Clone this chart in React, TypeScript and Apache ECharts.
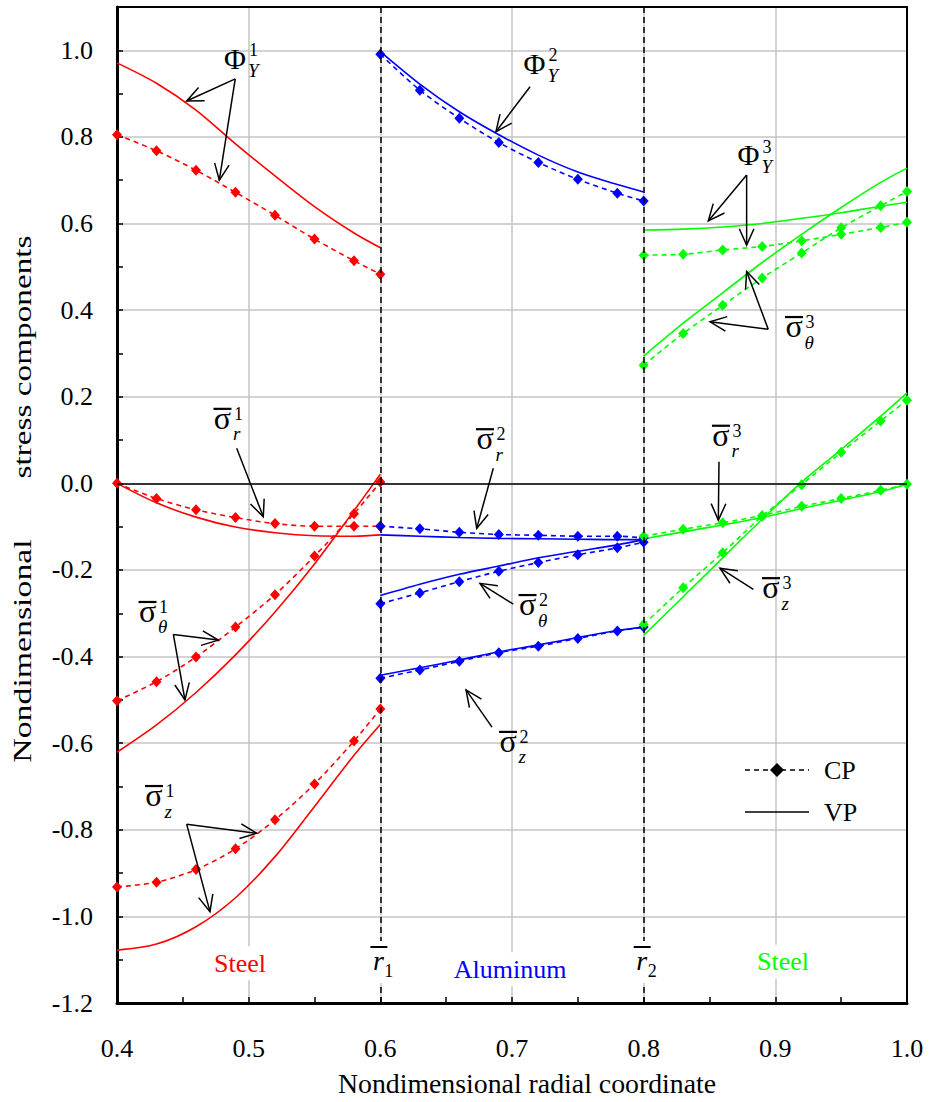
import React, { useEffect, useRef } from "react";
import * as echarts from "echarts";

const FONT = "Liberation Serif";
const RED = "#ff0000";
const BLUE = "#0000ff";
const GREEN = "#00ff00";

// Radial positions of the three layers
const rInner = [0.4, 0.43, 0.46, 0.49, 0.52, 0.55, 0.58, 0.6];
const rMiddle = [0.6, 0.63, 0.66, 0.69, 0.72, 0.75, 0.78, 0.8];
const rOuter = [0.8, 0.83, 0.86, 0.89, 0.92, 0.95, 0.98, 1.0];
const interfaces = [0.6, 0.8];

// Layer 1 (steel, red)
const phiCP1 = [0.805, 0.768, 0.723, 0.672, 0.619, 0.564, 0.514, 0.483];
const phiVP1 = [0.971, 0.924, 0.862, 0.784, 0.71, 0.639, 0.578, 0.544];
const srCP1 = [0.0, -0.035, -0.061, -0.079, -0.093, -0.099, -0.099, -0.099];
const srVP1 = [0.0, -0.045, -0.078, -0.101, -0.114, -0.121, -0.122, -0.119];
const stCP1 = [-0.502, -0.458, -0.401, -0.332, -0.257, -0.168, -0.07, 0.003];
const stVP1 = [-0.621, -0.558, -0.483, -0.396, -0.297, -0.186, -0.063, 0.021];
const szCP1 = [-0.932, -0.921, -0.892, -0.844, -0.777, -0.694, -0.595, -0.521];
const szVP1 = [-1.078, -1.064, -1.024, -0.957, -0.862, -0.746, -0.628, -0.557];

// Layer 2 (aluminum, blue)
const phiCP2 = [0.991, 0.908, 0.843, 0.787, 0.741, 0.702, 0.67, 0.652];
const phiVP2 = [0.997, 0.922, 0.858, 0.805, 0.758, 0.719, 0.69, 0.673];
const srCP2 = [-0.099, -0.105, -0.113, -0.118, -0.12, -0.122, -0.122, -0.126];
const srVP2 = [-0.119, -0.122, -0.125, -0.127, -0.128, -0.129, -0.13, -0.13];
const stCP2 = [-0.278, -0.253, -0.227, -0.203, -0.183, -0.165, -0.149, -0.136];
const stVP2 = [-0.259, -0.233, -0.21, -0.191, -0.172, -0.157, -0.142, -0.13];
const szCP2 = [-0.45, -0.431, -0.411, -0.391, -0.376, -0.358, -0.341, -0.332];
const szVP2 = [-0.443, -0.426, -0.408, -0.389, -0.373, -0.356, -0.34, -0.332];

// Layer 3 (steel, green)
const phiCP3 = [0.527, 0.529, 0.539, 0.547, 0.56, 0.575, 0.591, 0.603];
const phiVP3 = [0.585, 0.587, 0.592, 0.6, 0.612, 0.625, 0.64, 0.649];
const srCP3 = [-0.122, -0.106, -0.091, -0.074, -0.053, -0.035, -0.016, -0.002];
const srVP3 = [-0.128, -0.112, -0.096, -0.079, -0.058, -0.039, -0.019, -0.002];
const stCP3 = [0.273, 0.346, 0.411, 0.474, 0.532, 0.59, 0.641, 0.674];
const stVP3 = [0.294, 0.37, 0.44, 0.51, 0.575, 0.637, 0.695, 0.728];
const szCP3 = [-0.326, -0.241, -0.16, -0.076, -0.003, 0.072, 0.144, 0.192];
const szVP3 = [-0.351, -0.262, -0.172, -0.083, 0.003, 0.078, 0.155, 0.209];

// Annotations (data coordinates)
const annotations = [
  { sym: "Φ", sup: "1", sub: "Y", at: [0.4896, 0.982], from: [0.4898, 0.934], to: [[0.4529, 0.883], [0.4777, 0.7]] },
  { sym: "Φ", sup: "2", sub: "Y", at: [0.7171, 0.97], from: [0.7137, 0.916], to: [[0.6878, 0.812]] },
  { sym: "Φ", sup: "3", sub: "Y", at: [0.8796, 0.759], from: [0.8782, 0.712], to: [[0.8491, 0.606], [0.8782, 0.55]] },
  { sym: "σ", sup: "3", sub: "θ", at: [0.9142, 0.354], from: [0.8946, 0.356], to: [[0.8782, 0.489], [0.8504, 0.373]] },
  { sym: "σ", sup: "1", sub: "r", at: [0.4801, 0.142], from: [0.4909, 0.081], to: [[0.5111, -0.077]] },
  { sym: "σ", sup: "2", sub: "r", at: [0.6795, 0.095], from: [0.6858, 0.035], to: [[0.6732, -0.104]] },
  { sym: "σ", sup: "2", sub: "θ", at: [0.7118, -0.288], from: [0.701, -0.279], to: [[0.6757, -0.231]] },
  { sym: "σ", sup: "2", sub: "z", at: [0.697, -0.604], from: [0.6848, -0.563], to: [[0.6651, -0.477]] },
  { sym: "σ", sup: "3", sub: "r", at: [0.8587, 0.103], from: [0.8572, 0.05], to: [[0.8567, -0.085]] },
  { sym: "σ", sup: "3", sub: "z", at: [0.8967, -0.249], from: [0.8833, -0.245], to: [[0.858, -0.196]] },
  { sym: "σ", sup: "1", sub: "θ", at: [0.4232, -0.304], from: [0.4428, -0.349], to: [[0.4769, -0.362], [0.4516, -0.5]] },
  { sym: "σ", sup: "1", sub: "z", at: [0.4281, -0.729], from: [0.4529, -0.787], to: [[0.5061, -0.808], [0.4706, -0.989]] },
];

const materialLabels = [
  { text: "Steel", color: RED, at: [0.4934, -1.108] },
  { text: "Aluminum", color: BLUE, at: [0.6985, -1.122] },
  { text: "Steel", color: GREEN, at: [0.9058, -1.105] },
];
const radiusLabels = [
  { sub: "1", at: [0.5985, -1.103] },
  { sub: "2", at: [0.7985, -1.103] },
];
const legendItems = [
  { name: "CP", dashed: true, marker: true },
  { name: "VP", dashed: false, marker: false },
];

function lineSeries(xs: number[], ys: number[], color: string, cp: boolean) {
  return {
    type: "line",
    name: cp ? "CP" : "VP",
    data: xs.map((x, i) => [x, ys[i]]),
    smooth: 0.3,
    showSymbol: cp,
    symbol: "diamond",
    symbolSize: [10, 11],
    silent: true,
    z: cp ? 4 : 3,
    lineStyle: { color, width: 1.6, type: cp ? [5, 4] : "solid" },
    itemStyle: { color },
  };
}

function buildOption() {
  const groups: [number[], number[][], string][] = [
    [rInner, [phiCP1, srCP1, stCP1, szCP1, phiVP1, srVP1, stVP1, szVP1], RED],
    [rMiddle, [phiCP2, srCP2, stCP2, szCP2, phiVP2, srVP2, stVP2, szVP2], BLUE],
    [rOuter, [phiCP3, srCP3, stCP3, szCP3, phiVP3, srVP3, stVP3, szVP3], GREEN],
  ];
  const series: any[] = [];
  groups.forEach(([xs, sets, color]) => {
    sets.forEach((ys, k) => series.push(lineSeries(xs, ys, color, k < 4)));
  });
  series[0].markLine = {
    silent: true,
    symbol: ["none", "none"],
    label: { show: false },
    animation: false,
    data: [
      ...interfaces.map((v) => ({ xAxis: v, lineStyle: { color: "#000", width: 1.5, type: [6, 4] } })),
      { yAxis: 0, lineStyle: { color: "#000", width: 1.6, type: "solid" } },
    ],
  };

  const labelStyle = { fontFamily: FONT, fontSize: 26, color: "#000" };
  return {
    animation: false,
    backgroundColor: "#fff",
    textStyle: { fontFamily: FONT },
    grid: { left: 117, right: 23, top: 7, bottom: 99 },
    xAxis: [
      {
        type: "value",
        min: 0.4,
        max: 1.0,
        interval: 0.1,
        axisLine: { show: true, onZero: false, lineStyle: { color: "#000", width: 3 } },
        axisTick: { show: true, inside: true, length: 6, lineStyle: { color: "#000", width: 1.5 } },
        minorTick: { show: true, splitNumber: 2, length: 6, lineStyle: { color: "#000", width: 1.5 } },
        axisLabel: { ...labelStyle, margin: 32, formatter: (v: number) => v.toFixed(1) },
        splitLine: { show: true, lineStyle: { color: "#c4c4c4", width: 1.5 } },
      },
      {
        type: "value",
        position: "top",
        min: 0.4,
        max: 1.0,
        axisLine: { show: true, onZero: false, lineStyle: { color: "#000", width: 2 } },
        axisTick: { show: false },
        axisLabel: { show: false },
        splitLine: { show: false },
      },
    ],
    yAxis: [
      {
        type: "value",
        min: -1.2,
        max: 1.1,
        interval: 0.2,
        axisLine: { show: true, onZero: false, lineStyle: { color: "#000", width: 3 } },
        axisTick: { show: false },
        axisLabel: { ...labelStyle, margin: 24, showMaxLabel: false, formatter: (v: number) => v.toFixed(1) },
        splitLine: { show: true, lineStyle: { color: "#c4c4c4", width: 1.5 } },
      },
      {
        type: "value",
        position: "left",
        min: -1.2,
        max: 1.1,
        interval: 0.1,
        axisLine: { show: false },
        axisTick: { show: true, inside: true, length: 6, lineStyle: { color: "#000", width: 1.5 } },
        axisLabel: { show: false },
        splitLine: { show: false },
      },
      {
        type: "value",
        position: "right",
        min: -1.2,
        max: 1.1,
        axisLine: { show: true, onZero: false, lineStyle: { color: "#000", width: 2 } },
        axisTick: { show: false },
        axisLabel: { show: false },
        splitLine: { show: false },
      },
    ],
    series,
  };
}

function buildGraphics(chart: any) {
  const P = (p: number[]) => chart.convertToPixel({ seriesIndex: 0 }, p) as number[];
  const els: any[] = [];
  const text = (x: number, y: number, t: string, size: number, o: any = {}) =>
    els.push({
      type: "text",
      x,
      y,
      z: 100,
      silent: true,
      rotation: o.rotation || 0,
      scaleX: o.scaleX || 1,
      style: {
        text: t,
        fill: o.fill || "#000",
        fontSize: size,
        fontFamily: FONT,
        fontStyle: o.italic ? "italic" : "normal",
        textAlign: o.align || "center",
        align: o.align || "center",
        textVerticalAlign: "middle",
        verticalAlign: "middle",
        backgroundColor: o.bg,
        padding: o.pad,
      },
    });
  const seg = (x1: number, y1: number, x2: number, y2: number, w = 1.5, dash?: number[]) =>
    els.push({
      type: "line",
      z: 100,
      silent: true,
      shape: { x1, y1, x2, y2 },
      style: { stroke: "#000", lineWidth: w, lineDash: dash },
    });
  const arrow = (a: number[], b: number[]) => {
    const [x0, y0] = P(a);
    const [x1, y1] = P(b);
    seg(x0, y0, x1, y1);
    const ang = Math.atan2(y1 - y0, x1 - x0);
    const L = 18;
    const h = 0.42;
    els.push({
      type: "polyline",
      z: 100,
      silent: true,
      shape: {
        points: [
          [x1 - L * Math.cos(ang - h), y1 - L * Math.sin(ang - h)],
          [x1, y1],
          [x1 - L * Math.cos(ang + h), y1 - L * Math.sin(ang + h)],
        ],
      },
      style: { stroke: "#000", lineWidth: 1.5, fill: "none" },
    });
  };

  annotations.forEach((a) => {
    const [cx, cy] = P(a.at);
    const isPhi = a.sym === "Φ";
    const half = isPhi ? 12 : 9.5;
    text(cx, isPhi ? cy : cy - 4, a.sym, isPhi ? 30 : 32);
    if (!isPhi) seg(cx - 9, cy - 13, cx + 9, cy - 13, 2.2);
    text(cx + half + 2, cy - 8, a.sup, 18, { align: "left" });
    text(cx + half + 1, cy + 12, a.sub, 19, { align: "left", italic: true });
    a.to.forEach((t) => arrow(a.from, t));
  });

  materialLabels.forEach((m) => {
    const [x, y] = P(m.at);
    els.push({ type: "rect", z: 99, silent: true, shape: { x: x - 38, y: y - 17, width: 76, height: 34 }, style: { fill: "#fff" } });
    text(x, y, m.text, 26, { fill: m.color });
  });

  radiusLabels.forEach((r) => {
    const [x, y] = P(r.at);
    els.push({ type: "rect", z: 99, silent: true, shape: { x: x - 14, y: y - 20, width: 30, height: 42 }, style: { fill: "#fff" } });
    text(x, y, "r", 28, { italic: true });
    seg(x - 8, y - 14, x + 9, y - 14, 2);
    text(x + 6, y + 10, r.sub, 18, { align: "left" });
  });

  // legend
  legendItems.forEach((it, i) => {
    const y = 770 + i * 42;
    seg(745, y, 809, y, 1.6, it.dashed ? [5, 4] : undefined);
    if (it.marker) {
      els.push({
        type: "polygon",
        z: 101,
        silent: true,
        shape: { points: [[777, y - 7], [784, y], [777, y + 7], [770, y]] },
        style: { fill: "#000" },
      });
    }
    els.push({ type: "rect", z: 99, silent: true, shape: { x: 818, y: y - 16, width: 60, height: 32 }, style: { fill: "#fff" } });
    text(824, y, it.name, 26, { align: "left" });
  });

  text(527, 1084, "Nondimensional radial coordinate", 27, { scaleX: 1.03 });
  text(22, 651, "Nondimensional", 26, { rotation: Math.PI / 2, scaleX: 1.3 });
  text(22, 357, "stress components", 26, { rotation: Math.PI / 2, scaleX: 1.28 });
  return els;
}

export default function App() {
  const ref = useRef<HTMLDivElement>(null);
  useEffect(() => {
    document.body.style.margin = "0";
    const chart = echarts.init(ref.current as HTMLDivElement, null, { renderer: "svg" });
    chart.setOption(buildOption() as any);
    chart.setOption({ graphic: { elements: buildGraphics(chart) } } as any);
    return () => chart.dispose();
  }, []);
  return <div ref={ref} style={{ position: "absolute", left: 0, top: 0, width: 930, height: 1102 }} />;
}
